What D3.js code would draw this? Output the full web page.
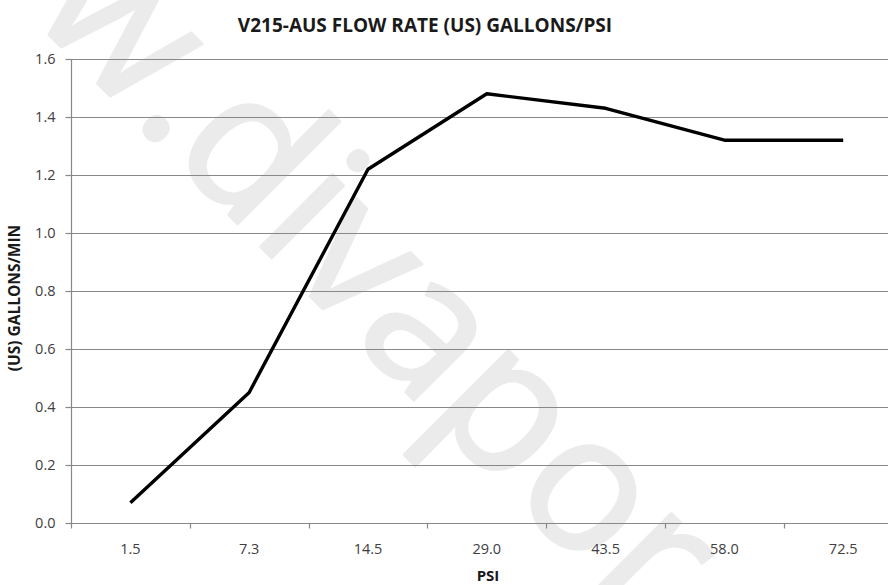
<!DOCTYPE html>
<html>
<head>
<meta charset="utf-8">
<script src="https://cdn.jsdelivr.net/npm/d3@7"></script>
<style>
  html, body { margin: 0; padding: 0; background: #fff; }
  svg { display: block; }
</style>
</head>
<body>
<svg id="chart" width="888" height="585"></svg>
<script>
const categories = ["1.5", "7.3", "14.5", "29.0", "43.5", "58.0", "72.5"];
const flowValues = [0.07, 0.45, 1.22, 1.48, 1.43, 1.32, 1.32];
const yTicks = [0, 0.2, 0.4, 0.6, 0.8, 1.0, 1.2, 1.4, 1.6];
const titleText = "V215-AUS FLOW RATE (US) GALLONS/PSI";
const xTitle = "PSI";
const yTitle = "(US) GALLONS/MIN";
const watermarkPre = "www.";
const watermarkPost = "divapor.com";

(function () {
const svg = d3.select("#chart");
const W = 888, H = 585;
const pLeft = 71, pRight = 902.6, pTop = 59, pBottom = 523;

svg.append("rect").attr("width", W).attr("height", H).attr("fill", "#fff");

// watermark
const wm = svg.append("g").attr("transform", "translate(167,153) rotate(45)")
  .attr("font-family", "'Open Sans', sans-serif").attr("font-size", 190)
  .attr("fill", "#ebebeb").attr("stroke", "#ebebeb").attr("stroke-width", 3)
  .attr("stroke-linejoin", "round");
wm.append("text").attr("text-anchor", "end").text(watermarkPre);
wm.append("text").attr("text-anchor", "start").text(watermarkPost);

const x = d3.scaleBand().domain(categories).range([pLeft, pRight]);
const y = d3.scaleLinear().domain([0, 1.6]).range([pBottom, pTop]);

// gridlines
svg.append("g").selectAll("line").data(yTicks.filter(d => d > 0)).join("line")
  .attr("x1", pLeft).attr("x2", W)
  .attr("y1", d => Math.round(y(d)) + 0.5).attr("y2", d => Math.round(y(d)) + 0.5)
  .attr("stroke", "#888").attr("stroke-width", 1.2);

// y axis
const yAxis = svg.append("g").attr("transform", `translate(${pLeft + 0.5},0)`)
  .call(d3.axisLeft(y).tickValues(yTicks).tickFormat(d3.format(".1f")).tickSize(6).tickPadding(10));
yAxis.select(".domain").attr("stroke", "#888").attr("stroke-width", 1.2).attr("d", `M0,${pTop}V${pBottom}`);
yAxis.selectAll(".tick line").attr("stroke", "#888").attr("stroke-width", 1.2);
yAxis.selectAll(".tick text").attr("font-family", "'Open Sans', sans-serif").attr("font-size", 14.5)
  .attr("fill", "#404040");

// x axis
const xAxis = svg.append("g").attr("transform", `translate(0,${pBottom + 0.5})`)
  .call(d3.axisBottom(x).tickSize(0).tickPadding(20));
xAxis.select(".domain").attr("stroke", "#888").attr("stroke-width", 1.2).attr("d", `M${pLeft},0H${W}`);
xAxis.selectAll(".tick text").attr("font-family", "'Open Sans', sans-serif").attr("font-size", 14.5)
  .attr("fill", "#404040");
const bounds = categories.map(c => x(c)).concat([x(categories[categories.length - 1]) + x.bandwidth()]);
xAxis.append("g").selectAll("line").data(bounds).join("line")
  .attr("x1", d => Math.round(d) + 0.5).attr("x2", d => Math.round(d) + 0.5)
  .attr("y1", 0).attr("y2", 5).attr("stroke", "#888").attr("stroke-width", 1.2);

// line
const line = d3.line().x((d, i) => x(categories[i]) + x.bandwidth() / 2).y(d => y(d));
svg.append("path").datum(flowValues).attr("d", line)
  .attr("fill", "none").attr("stroke", "#000").attr("stroke-width", 3.4)
  .attr("stroke-linejoin", "round");

// titles
svg.append("text").attr("x", 425).attr("y", 32).attr("text-anchor", "middle")
  .attr("font-family", "'Open Sans', sans-serif").attr("font-weight", 700).attr("font-size", 19)
  .attr("fill", "#1a1a1a").text(titleText);
svg.append("text").attr("x", 488).attr("y", 581).attr("text-anchor", "middle")
  .attr("font-family", "'Open Sans', sans-serif").attr("font-weight", 700).attr("font-size", 15)
  .attr("fill", "#1a1a1a").text(xTitle);
svg.append("text").attr("transform", "translate(20,298) rotate(-90)").attr("text-anchor", "middle")
  .attr("font-family", "'Open Sans', sans-serif").attr("font-weight", 700).attr("font-size", 15.5)
  .attr("fill", "#1a1a1a").text(yTitle);
})();
</script>
</body>
</html>
